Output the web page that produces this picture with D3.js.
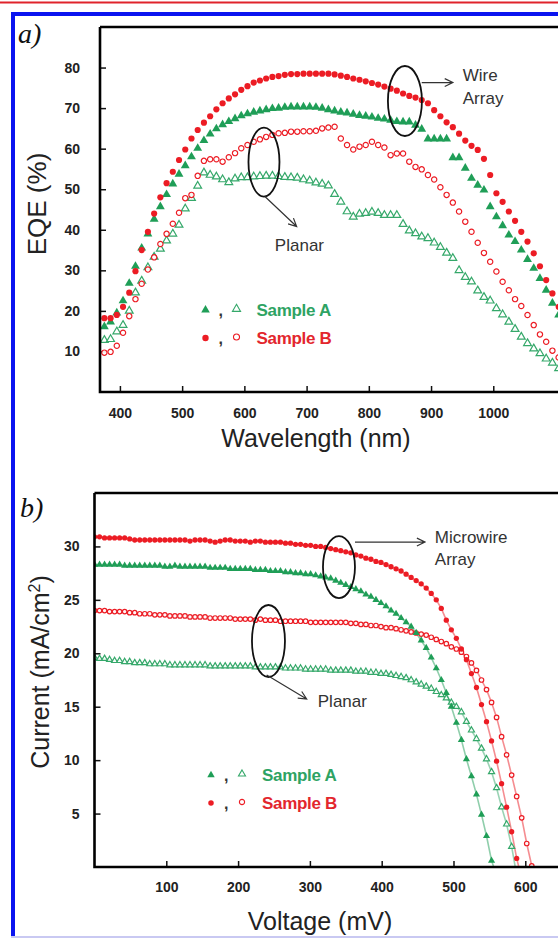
<!DOCTYPE html>
<html>
<head>
<meta charset="utf-8">
<script src="https://cdnjs.cloudflare.com/ajax/libs/d3/7.8.5/d3.min.js"></script>
<style>
  body { margin: 0; background: #fff; }
  svg { display: block; }
</style>
</head>
<body>
<div id="chart"></div>
<script>
// ---- panel a data : EQE (%) vs wavelength (nm)
var wavelength = [375, 385, 395, 405, 415, 425, 435, 445, 455, 465, 475, 485, 495, 505, 515, 525, 535, 545, 555, 565,
    575, 585, 595, 605, 615, 625, 635, 645, 655, 665, 675, 685, 695, 705, 715, 725, 735, 745, 755, 765,
    775, 785, 795, 805, 815, 825, 835, 845, 855, 865, 875, 885, 895, 905, 915, 925, 935, 945, 955, 965,
    975, 985, 995, 1005, 1015, 1025, 1035, 1045, 1055, 1065, 1075, 1085, 1095, 1105];
var eqeWireA = [16.1, 17.3, 19.5, 22.5, 26.8, 31.0, 35.5, 39.0, 42.6, 45.7, 48.7, 51.3, 53.7, 55.8, 58.0, 60.1, 62.0, 63.6, 64.9, 65.9,
    66.7, 67.4, 68.1, 68.6, 69.0, 69.3, 69.6, 69.9, 70.0, 70.2, 70.3, 70.3, 70.3, 70.3, 70.2, 70.0, 69.6, 69.3, 69.0, 68.8,
    68.5, 68.2, 68.0, 67.8, 67.5, 67.3, 67.0, 66.7, 66.6, 66.6, 65.8, 64.8, 62.4, 62.4, 62.4, 62.4, 57.8, 57.8, 55.2, 52.7,
    51.0, 49.8, 45.7, 43.2, 41.0, 38.7, 37.1, 35.0, 32.7, 30.5, 28.0, 25.1, 21.9, 19.0];
var eqePlanarA = [12.8, 13.0, 14.9, 16.5, 20.0, 24.5, 27.4, 30.7, 33.3, 35.3, 37.3, 39.0, 41.2, 45.2, 47.8, 50.8, 54.1, 53.5, 53.1, 52.4,
    51.7, 52.6, 52.9, 52.9, 53.1, 53.2, 53.3, 53.3, 53.2, 53.0, 52.9, 52.8, 52.4, 52.1, 51.6, 51.3, 50.9, 48.8, 46.9, 44.5,
    43.2, 43.9, 44.1, 44.4, 44.1, 43.6, 43.6, 43.6, 41.4, 39.8, 39.1, 38.3, 37.9, 36.8, 35.7, 34.3, 33.0, 30.0, 28.3, 27.2,
    25.0, 23.4, 22.5, 20.6, 19.1, 17.3, 15.5, 13.6, 12.0, 10.7, 9.5, 8.2, 7.2, 5.8];
var eqeWireB = [18.2, 18.2, 19.0, 21.0, 24.5, 29.8, 35.0, 39.5, 44.0, 48.0, 51.5, 54.3, 57.2, 59.8, 62.5, 64.6, 66.4, 68.0, 69.7, 71.2,
    72.4, 73.4, 74.5, 75.4, 76.3, 76.8, 77.3, 77.7, 77.9, 78.2, 78.4, 78.4, 78.5, 78.5, 78.5, 78.5, 78.5, 78.3, 78.0, 77.7,
    77.3, 77.0, 76.6, 76.2, 75.8, 75.3, 74.8, 74.3, 73.6, 73.0, 72.6, 72.0, 71.2, 69.5, 68.0, 66.5, 65.3, 63.7, 62.0, 60.7,
    59.7, 57.5, 53.5, 49.0, 46.9, 44.5, 42.2, 39.5, 37.1, 34.2, 31.0, 27.6, 24.3, 21.0];
var eqePlanarB = [9.7, 9.9, 11.4, 14.6, 18.7, 22.9, 26.7, 30.2, 33.2, 36.5, 39.0, 41.5, 44.2, 47.8, 48.6, 53.3, 57.0, 57.4, 57.4, 56.8,
    57.9, 58.9, 60.1, 60.9, 61.7, 62.3, 62.9, 63.4, 63.8, 63.9, 64.2, 64.2, 64.3, 64.3, 64.4, 65.0, 65.2, 65.4, 62.5, 60.9,
    59.8, 60.5, 60.9, 61.7, 60.9, 60.3, 58.4, 58.8, 58.8, 56.8, 55.5, 54.9, 53.5, 52.4, 50.5, 48.6, 46.7, 44.5, 42.0, 39.5,
    36.8, 34.3, 32.1, 29.7, 27.2, 25.1, 22.9, 21.2, 19.0, 16.5, 14.2, 12.4, 10.2, 8.5];
var wlTicks = [400, 500, 600, 700, 800, 900, 1000];
var eqeTicks = [10, 20, 30, 40, 50, 60, 70, 80];

// ---- panel b data : current (mA/cm2) vs voltage (mV)
var voltage = [0, 7, 14, 21, 28, 35, 42, 49, 56, 63, 70, 77, 84, 91, 98, 105, 112, 119, 126, 133,
    140, 147, 154, 161, 168, 175, 182, 189, 196, 203, 210, 217, 224, 231, 238, 245, 252, 259, 266, 273,
    280, 287, 294, 301, 308, 315, 322, 329, 336, 343, 350, 357, 364, 371, 378, 385, 392, 399, 406, 413,
    420, 427, 434, 441, 448, 455, 462, 469, 476, 483, 490, 497, 504, 511, 518, 525, 532, 539, 546, 553,
    560, 567, 574, 581, 588, 595, 602, 609];
var jWireA = [28.3, 28.3, 28.3, 28.3, 28.3, 28.3, 28.2, 28.2, 28.2, 28.2, 28.2, 28.2, 28.2, 28.2, 28.1, 28.1, 28.2, 28.1, 28.1, 28.1,
    28.1, 28.1, 28.1, 28.0, 28.0, 28.0, 28.0, 27.9, 27.9, 27.9, 27.9, 27.9, 27.8, 27.8, 27.8, 27.7, 27.7, 27.7, 27.6, 27.6,
    27.5, 27.5, 27.4, 27.4, 27.3, 27.2, 27.1, 27.0, 26.8, 26.6, 26.4, 26.2, 26.0, 25.8, 25.5, 25.3, 25.0, 24.7, 24.4, 24.0,
    23.7, 23.3, 22.9, 22.5, 21.9, 21.2, 20.5, 19.6, 18.6, 17.5, 16.3, 15.0, 13.5, 11.9, 10.1, 8.5, 6.8, 4.9, 2.9, 0.6];
var jPlanarA = [19.6, 19.5, 19.5, 19.4, 19.3, 19.3, 19.2, 19.2, 19.1, 19.1, 19.1, 19.0, 19.0, 19.0, 19.0, 18.9, 18.9, 18.9, 18.9, 18.9,
    18.9, 18.9, 18.9, 18.8, 18.8, 18.8, 18.8, 18.8, 18.8, 18.8, 18.8, 18.8, 18.7, 18.7, 18.7, 18.7, 18.7, 18.7, 18.6, 18.6,
    18.6, 18.6, 18.5, 18.5, 18.5, 18.5, 18.5, 18.4, 18.4, 18.4, 18.4, 18.4, 18.3, 18.3, 18.3, 18.2, 18.2, 18.1, 18.1, 18.0,
    17.9, 17.8, 17.7, 17.5, 17.3, 17.1, 16.9, 16.7, 16.4, 16.1, 15.8, 15.4, 15.0, 14.5, 13.6, 12.8, 12.0, 11.1, 10.1, 8.9,
    7.4, 5.6, 4.0, 1.9];
var jWireB = [30.9, 30.9, 30.8, 30.8, 30.8, 30.8, 30.8, 30.7, 30.6, 30.6, 30.6, 30.6, 30.6, 30.6, 30.6, 30.6, 30.6, 30.6, 30.6, 30.5,
    30.6, 30.6, 30.6, 30.5, 30.4, 30.5, 30.6, 30.6, 30.5, 30.5, 30.5, 30.4, 30.5, 30.5, 30.4, 30.4, 30.4, 30.4, 30.3, 30.3,
    30.2, 30.2, 30.1, 30.1, 30.0, 30.0, 29.9, 29.8, 29.7, 29.6, 29.5, 29.4, 29.2, 29.1, 28.9, 28.8, 28.6, 28.5, 28.3, 28.1,
    27.9, 27.7, 27.4, 27.1, 26.8, 26.5, 26.1, 25.6, 25.0, 24.2, 23.1, 22.2, 21.4, 20.4, 19.4, 18.1, 16.8, 15.2, 13.6, 11.8,
    9.9, 7.8, 5.6, 3.3, 0.8];
var jPlanarB = [24.0, 24.0, 24.0, 23.9, 23.9, 23.9, 23.9, 23.8, 23.8, 23.7, 23.7, 23.7, 23.6, 23.6, 23.6, 23.5, 23.5, 23.5, 23.5, 23.4,
    23.4, 23.4, 23.4, 23.3, 23.3, 23.3, 23.3, 23.3, 23.2, 23.2, 23.2, 23.2, 23.1, 23.2, 23.1, 23.1, 23.1, 23.0, 23.0, 23.0,
    23.0, 23.0, 23.0, 22.9, 22.9, 22.9, 22.9, 22.9, 22.9, 22.9, 22.9, 22.8, 22.8, 22.7, 22.7, 22.6, 22.6, 22.5, 22.4, 22.4,
    22.3, 22.2, 22.1, 22.0, 21.9, 21.8, 21.7, 21.5, 21.3, 21.1, 20.9, 20.6, 20.4, 20.1, 19.7, 19.1, 18.4, 17.5, 16.6, 15.4,
    14.0, 12.2, 10.5, 8.6, 6.6, 4.6, 2.2, 0.1];
var vTicks = [100, 200, 300, 400, 500, 600];
var jTicks = [5, 10, 15, 20, 25, 30];

var red = "#ec1c24", green = "#1f9e57", greenOpen = "#35a86a";
var redText = "#e3262d", greenText = "#2ea363";
var tickFont = "bold 14px 'Liberation Sans', Arial, sans-serif";
var labelFont = "25px 'Liberation Sans', Arial, sans-serif";
var noteFont = "17px 'Liberation Sans', Arial, sans-serif";

var svg = d3.select("#chart").append("svg")
    .attr("width", 558)
    .attr("height", 938);

svg.append("rect").attr("width", 558).attr("height", 938).attr("fill", "#fff");

// page decorations
svg.append("line").attr("x1", 0).attr("x2", 558).attr("y1", 2.5).attr("y2", 2.5)
    .attr("stroke", "#e0232b").attr("stroke-width", 2);
svg.append("path").attr("d", "M13,938V14H570")
    .attr("fill", "none").attr("stroke", "#0a14f0").attr("stroke-width", 4);
svg.append("line").attr("x1", 11).attr("x2", 558).attr("y1", 937).attr("y2", 937)
    .attr("stroke", "#c9c9f2").attr("stroke-width", 2);

function zip(xs, ys) {
    var out = [];
    for (var i = 0; i < ys.length; i++) out.push({x: xs[i], y: ys[i]});
    return out;
}

function drawFrame(g, x0, y0, x1, y1) {
    g.append("path")
        .attr("d", "M" + x0 + "," + y0 + "H" + x1 + "M" + x0 + "," + y0 + "V" + y1 + "H" + x1)
        .attr("fill", "none").attr("stroke", "#000").attr("stroke-width", 2.6);
}

function styleAxis(ax) {
    ax.select(".domain").remove();
    ax.selectAll(".tick line").attr("stroke", "#111").attr("stroke-width", 1.5);
    ax.selectAll(".tick text").style("font", tickFont).attr("fill", "#222");
}

function arrow(g, x1, y1, x2, y2) {
    var a = Math.atan2(y2 - y1, x2 - x1), L = 9, w = 0.45;
    g.append("path")
        .attr("d", "M" + x1 + "," + y1 + "L" + x2 + "," + y2 +
            "M" + (x2 - L * Math.cos(a - w)) + "," + (y2 - L * Math.sin(a - w)) + "L" + x2 + "," + y2 +
            "L" + (x2 - L * Math.cos(a + w)) + "," + (y2 - L * Math.sin(a + w)))
        .attr("fill", "none").attr("stroke", "#333").attr("stroke-width", 1.2);
}

function note(g, cx, cy, rx, ry) {
    g.append("ellipse").attr("cx", cx).attr("cy", cy).attr("rx", rx).attr("ry", ry)
        .attr("fill", "none").attr("stroke", "#111").attr("stroke-width", 1.8);
}

function marks(g, pts, x, y, kind, color, open, size) {
    var sym = d3.symbol().type(kind === "tri" ? d3.symbolTriangle : d3.symbolCircle).size(size);
    g.selectAll(null).data(pts).enter().append("path")
        .attr("d", sym)
        .attr("transform", function (d) { return "translate(" + x(d.x) + "," + y(d.y) + ")"; })
        .attr("fill", open ? "#fff" : color)
        .attr("fill-opacity", open ? 0.9 : 1)
        .attr("stroke", color)
        .attr("stroke-width", open ? 1.2 : 0);
}

function legend(g, lx, ly, mSize) {
    var rows = [
        {kind: "tri", color: green, open: greenOpen, text: "Sample A", tc: greenText},
        {kind: "circ", color: red, open: red, text: "Sample B", tc: redText}
    ];
    rows.forEach(function (r, i) {
        var yy = ly + i * 28;
        var sym = d3.symbol().type(r.kind === "tri" ? d3.symbolTriangle : d3.symbolCircle);
        g.append("path").attr("d", sym.size(mSize)()).attr("transform", "translate(" + lx + "," + (yy - 6) + ")")
            .attr("fill", r.color);
        g.append("text").attr("x", lx + 13).attr("y", yy).text(",")
            .style("font", "bold 16px 'Liberation Sans', Arial, sans-serif").attr("fill", "#333");
        g.append("path").attr("d", sym.size(mSize * 0.9)()).attr("transform", "translate(" + (lx + 31) + "," + (yy - 7) + ")")
            .attr("fill", "#fff").attr("stroke", r.open).attr("stroke-width", 1.1);
        g.append("text").attr("x", lx + 51).attr("y", yy).text(r.text)
            .style("font", "bold 17px 'Liberation Sans', Arial, sans-serif")
            .attr("fill", r.tc).attr("letter-spacing", -0.3);
    });
}

// ================= panel a =================
var xA = d3.scaleLinear().domain([368, 1104]).range([100, 558]);
var yA = d3.scaleLinear().domain([0, 90]).range([392, 27]);
var ga = svg.append("g");

ga.append("text").attr("x", 18).attr("y", 43).text("a)")
    .style("font", "italic 28px 'Liberation Serif', 'Times New Roman', serif").attr("fill", "#111");

var axA = ga.append("g").attr("transform", "translate(100,0)")
    .call(d3.axisLeft(yA).tickValues(eqeTicks).tickSize(-6).tickPadding(20).tickFormat(d3.format("d")));
styleAxis(axA);
var axAb = ga.append("g").attr("transform", "translate(0,392)")
    .call(d3.axisBottom(xA).tickValues(wlTicks).tickSize(-6).tickPadding(16).tickFormat(d3.format("d")));
styleAxis(axAb);

var plotA = ga.append("g");
marks(plotA, zip(wavelength, eqePlanarA), xA, yA, "tri", greenOpen, true, 26);
marks(plotA, zip(wavelength, eqePlanarB), xA, yA, "circ", red, true, 22);
marks(plotA, zip(wavelength, eqeWireA), xA, yA, "tri", green, false, 34);
marks(plotA, zip(wavelength, eqeWireB), xA, yA, "circ", red, false, 30);

drawFrame(ga, 100, 27, 560, 392);

ga.append("text").attr("transform", "translate(46,204) rotate(-90)")
    .attr("text-anchor", "middle").text("EQE (%)")
    .style("font", "26px 'Liberation Sans', Arial, sans-serif").attr("fill", "#222");
ga.append("text").attr("x", 316).attr("y", 447).attr("text-anchor", "middle")
    .text("Wavelength (nm)").style("font", labelFont).attr("fill", "#222");

note(ga, xA(858), yA(71.75), 17, 35);
arrow(ga, xA(885), yA(76.3), xA(935), yA(76.3));
ga.append("text").attr("x", xA(951)).attr("y", yA(76.8)).text("Wire").style("font", noteFont).attr("fill", "#333");
ga.append("text").attr("x", xA(951)).attr("y", yA(71.0)).text("Array").style("font", noteFont).attr("fill", "#333");

note(ga, xA(631.5), yA(56.7), 15.5, 34.5);
arrow(ga, xA(633), yA(48.2), xA(684), yA(40.8));
ga.append("text").attr("x", xA(649)).attr("y", yA(34.8)).text("Planar").style("font", noteFont).attr("fill", "#333");

legend(ga, 205.5, 316, 32);

// ================= panel b =================
var xB = d3.scaleLinear().domain([0, 645]).range([94.5, 557.6]);
var yB = d3.scaleLinear().domain([0, 35]).range([867, 493]);
var gb = svg.append("g");

gb.append("text").attr("x", 20).attr("y", 517).text("b)")
    .style("font", "italic 28px 'Liberation Serif', 'Times New Roman', serif").attr("fill", "#111");

var axB = gb.append("g").attr("transform", "translate(94.5,0)")
    .call(d3.axisLeft(yB).tickValues(jTicks).tickSize(-6).tickPadding(15).tickFormat(d3.format("d")));
styleAxis(axB);
var axBb = gb.append("g").attr("transform", "translate(0,867)")
    .call(d3.axisBottom(xB).tickValues(vTicks).tickSize(-6).tickPadding(15).tickFormat(d3.format("d")));
styleAxis(axBb);

gb.append("clipPath").attr("id", "clipB").append("rect")
    .attr("x", 94.5).attr("y", 493).attr("width", 470).attr("height", 374);
var plotB = gb.append("g").attr("clip-path", "url(#clipB)");

var lineB = d3.line().x(function (d) { return xB(d.x); }).y(function (d) { return yB(d.y); });
var seriesB = [
    {v: voltage, j: jPlanarA, color: greenOpen, kind: "tri", open: true, vEnd: 586},
    {v: voltage, j: jPlanarB, color: red, kind: "circ", open: true, vEnd: 609},
    {v: voltage, j: jWireA, color: green, kind: "tri", open: false, vEnd: 556},
    {v: voltage, j: jWireB, color: red, kind: "circ", open: false, vEnd: 591}
];
seriesB.forEach(function (s) {
    var pts = zip(s.v, s.j);
    plotB.append("path").datum(pts.concat([{x: s.vEnd, y: 0}]))
        .attr("d", lineB).attr("fill", "none")
        .attr("stroke", s.color).attr("stroke-opacity", 0.5).attr("stroke-width", 1.6);
});
seriesB.forEach(function (s) {
    marks(plotB, zip(s.v, s.j), xB, yB, s.kind, s.color, s.open, s.open ? 16 : 22);
});

drawFrame(gb, 94.5, 493, 560, 867);

var yl = gb.append("text").attr("transform", "translate(49,672) rotate(-90)")
    .attr("text-anchor", "middle").style("font", labelFont).attr("fill", "#222");
yl.append("tspan").text("Current (mA/cm");
yl.append("tspan").attr("dy", -9).style("font-size", "16px").text("2");
yl.append("tspan").attr("dy", 9).text(")");
gb.append("text").attr("x", 320).attr("y", 930).attr("text-anchor", "middle")
    .text("Voltage (mV)").style("font", labelFont).attr("fill", "#222");

note(gb, xB(340.5), yB(28.07), 16, 31);
arrow(gb, xB(362.8), yB(30.41), xB(460.3), yB(30.41));
gb.append("text").attr("x", xB(474)).attr("y", yB(30.32)).text("Microwire").style("font", noteFont).attr("fill", "#333");
gb.append("text").attr("x", xB(474)).attr("y", yB(28.26)).text("Array").style("font", noteFont).attr("fill", "#333");

note(gb, xB(242.3), yB(21.15), 16.5, 36);
arrow(gb, xB(239.8), yB(17.97), xB(295.5), yB(15.72));
gb.append("text").attr("x", xB(311)).attr("y", yB(15.0)).text("Planar").style("font", noteFont).attr("fill", "#333");

legend(gb, 211, 781, 24);
</script>
</body>
</html>
